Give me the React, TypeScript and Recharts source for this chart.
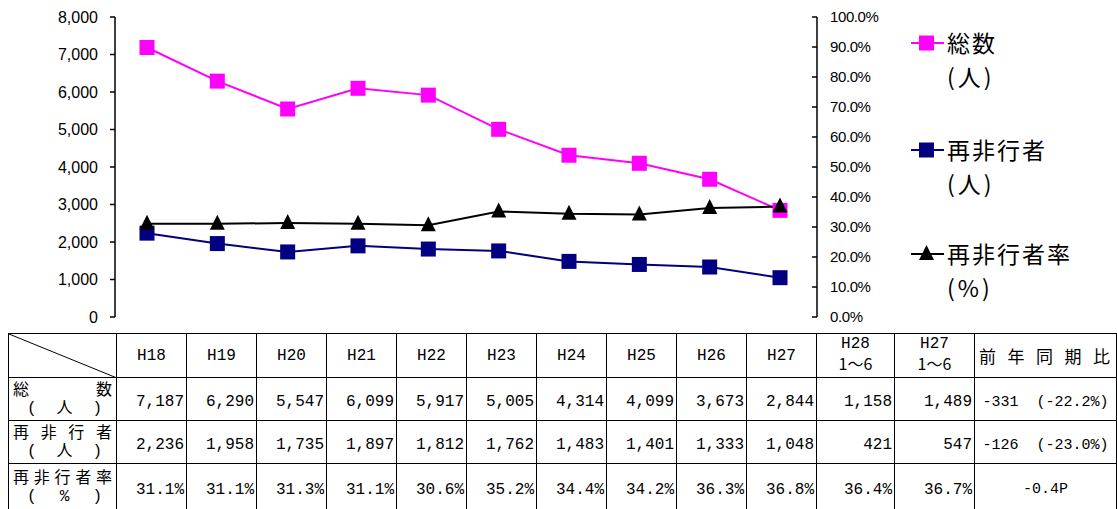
import React from "react"
import { LineChart, Line, XAxis, YAxis } from "recharts"

const years = ["H18", "H19", "H20", "H21", "H22", "H23", "H24", "H25", "H26", "H27"]
const totalCount = [7187, 6290, 5547, 6099, 5917, 5005, 4314, 4099, 3673, 2844]
const reoffenders = [2236, 1958, 1735, 1897, 1812, 1762, 1483, 1401, 1333, 1048]
const reoffendRate = [31.1, 31.1, 31.3, 31.1, 30.6, 35.2, 34.4, 34.2, 36.3, 36.8]

const halfLabels = [["H28", "1～6"], ["H27", "1～6"]]
const halfTotal = [1158, 1489]
const halfReoffenders = [421, 547]
const halfRate = [36.4, 36.7]
const compareLabel = ["前", "年", "同", "期", "比"]
const compareValues = ["-331  (-22.2%)", "-126  (-23.0%)", "-0.4P"]

const leftTicks = [0, 1000, 2000, 3000, 4000, 5000, 6000, 7000, 8000]
const rightTicks = [0, 10, 20, 30, 40, 50, 60, 70, 80, 90, 100]

const PINK = "#FF00FF"
const NAVY = "#000080"
const BLACK = "#000000"

const chartData = years.map((y, i) => ({
  year: y,
  total: totalCount[i],
  reoff: reoffenders[i],
  rate: reoffendRate[i],
}))

const fmt = (n: number) => n.toLocaleString("en-US")

function SquareDot(color: string) {
  return (props: any) => {
    const { cx, cy, index } = props
    return <rect key={index} x={cx - 7.5} y={cy - 7.5} width={15} height={15} fill={color} />
  }
}

function TriangleDot(props: any) {
  const { cx, cy, index } = props
  return (
    <polygon
      key={index}
      points={`${cx},${cy - 9} ${cx - 7.5},${cy + 6} ${cx + 7.5},${cy + 6}`}
      fill={BLACK}
    />
  )
}

function RightTick(props: any) {
  const { x, y, payload } = props
  return (
    <g>
      <line x1={x - 5} x2={x} y1={y} y2={y} stroke="#000" strokeWidth={1.5} />
      <text x={x + 13} y={y} dy={5} fontSize={15} fill="#000" fontFamily="'Liberation Sans', Arial" letterSpacing={-0.4}>
        {payload.value.toFixed(1) + "%"}
      </text>
    </g>
  )
}

const mono = "'Liberation Mono', 'DejaVu Sans Mono', monospace"
const jp = "'Noto Sans CJK JP', sans-serif"

const border = "1px solid #000"

const cell: React.CSSProperties = {
  border,
  padding: 0,
  fontFamily: mono,
  fontSize: 16,
  color: "#000",
}

function LegendItem({ top, color, label, unit, marker }: any) {
  return (
    <div style={{ position: "absolute", left: 910, top, fontFamily: jp, color: "#000" }}>
      <svg width={36} height={20} style={{ position: "absolute", left: 0, top: -10 }}>
        <line x1={1} x2={34} y1={10} y2={10} stroke={color} strokeWidth={2} />
        {marker === "square" ? (
          <rect x={9} y={2.5} width={15} height={15} fill={color} />
        ) : (
          <polygon points="16.5,1 9,16 24,16" fill={color} />
        )}
      </svg>
      <div style={{ position: "absolute", left: 37, top: -18, fontSize: 23, letterSpacing: 2, whiteSpace: "nowrap", lineHeight: "34px" }}>
        {label}
      </div>
      <div style={{ position: "absolute", left: 37, top: 16, fontSize: 23, letterSpacing: 3, whiteSpace: "nowrap", lineHeight: "34px" }}>
        {unit}
      </div>
    </div>
  )
}

function RowLabel({ first, second }: { first: string[]; second: string[] }) {
  return (
    <div style={{ fontFamily: jp, fontSize: 16, lineHeight: "21px", padding: "0 4px 0 4px" }}>
      <div style={{ display: "flex", justifyContent: "space-between" }}>
        {first.map((c, i) => <span key={i}>{c}</span>)}
      </div>
      <div style={{ display: "flex", justifyContent: "space-between", padding: "0 10px 0 14px", fontFamily: `${mono.split(",")[0]}, ${jp}` }}>
        {second.map((c, i) => <span key={i}>{c}</span>)}
      </div>
    </div>
  )
}

export default function App() {
  const colWidths = [108, ...years.map(() => 70), 78, 80, 142]
  const rowLabels = [
    { first: ["総", "数"], second: ["(", "人", ")"] },
    { first: ["再", "非", "行", "者"], second: ["(", "人", ")"] },
    { first: ["再", "非", "行", "者", "率"], second: ["(", "%", ")"] },
  ]
  const rows = [
    [...totalCount.map(fmt), ...halfTotal.map(fmt)],
    [...reoffenders.map(fmt), ...halfReoffenders.map(fmt)],
    [...reoffendRate.map((v) => v.toFixed(1) + "%"), ...halfRate.map((v) => v.toFixed(1) + "%")],
  ]
  const rowHeights = [43, 43, 46]

  return (
    <div style={{ position: "absolute", left: 0, top: 0, width: 1117, height: 509, background: "#fff", overflow: "hidden" }}>
      <LineChart
        width={1117}
        height={330}
        data={chartData}
        margin={{ top: 17, right: 240, bottom: 13, left: 55 }}
      >
        <XAxis dataKey="year" hide padding={{ left: 32, right: 37 }} />
        <YAxis
          yAxisId="left"
          width={60}
          domain={[0, 8000]}
          ticks={leftTicks}
          interval={0}
          tickFormatter={fmt}
          tickSize={5}
          tickMargin={12}
          axisLine={{ stroke: "#000", strokeWidth: 1.5 }}
          tickLine={{ stroke: "#000", strokeWidth: 1.5 }}
          tick={{ fill: "#000", fontSize: 16, fontFamily: "'Liberation Sans', Arial" }}
        />
        <YAxis
          yAxisId="right"
          orientation="right"
          width={60}
          domain={[0, 100]}
          ticks={rightTicks}
          interval={0}
          tickSize={0}
          tickMargin={0}
          tickLine={false}
          axisLine={{ stroke: "#000", strokeWidth: 1.5 }}
          tick={<RightTick />}
        />
        <Line
          yAxisId="left"
          dataKey="total"
          stroke={PINK}
          strokeWidth={2}
          dot={SquareDot(PINK)}
          isAnimationActive={false}
        />
        <Line
          yAxisId="left"
          dataKey="reoff"
          stroke={NAVY}
          strokeWidth={2}
          dot={SquareDot(NAVY)}
          isAnimationActive={false}
        />
        <Line
          yAxisId="right"
          dataKey="rate"
          stroke={BLACK}
          strokeWidth={2}
          dot={TriangleDot}
          isAnimationActive={false}
        />
      </LineChart>

      <LegendItem top={43} color={PINK} label="総数" unit="(人)" marker="square" />
      <LegendItem top={150} color={NAVY} label="再非行者" unit="(人)" marker="square" />
      <LegendItem top={254} color={BLACK} label="再非行者率" unit="(%)" marker="triangle" />

      <table
        style={{
          position: "absolute",
          left: 8,
          top: 333,
          borderCollapse: "collapse",
          tableLayout: "fixed",
          width: colWidths.reduce((a, b) => a + b, 0),
        }}
      >
        <colgroup>
          {colWidths.map((w, i) => <col key={i} style={{ width: w }} />)}
        </colgroup>
        <tbody>
          <tr style={{ height: 44 }}>
            <td style={{ ...cell, position: "relative" }}>
              <svg width={108} height={44} style={{ position: "absolute", left: 0, top: 0 }}>
                <line x1={0} y1={0} x2={108} y2={44} stroke="#000" strokeWidth={1} />
              </svg>
            </td>
            {years.map((y) => (
              <td key={y} style={{ ...cell, textAlign: "center" }}>{y}</td>
            ))}
            {halfLabels.map((h, i) => (
              <td key={i} style={{ ...cell, textAlign: "center", lineHeight: "19px" }}>
                {h[0]}
                <br />
                <span style={{ fontFamily: jp, fontSize: 16 }}>{h[1]}</span>
              </td>
            ))}
            <td style={{ ...cell, fontFamily: jp, fontSize: 17 }}>
              <div style={{ display: "flex", justifyContent: "space-between", padding: "0 6px 0 4px" }}>
                {compareLabel.map((c, i) => <span key={i}>{c}</span>)}
              </div>
            </td>
          </tr>
          {rows.map((r, ri) => (
            <tr key={ri} style={{ height: rowHeights[ri] }}>
              <td style={{ ...cell, verticalAlign: "middle" }}>
                <RowLabel first={rowLabels[ri].first} second={rowLabels[ri].second} />
              </td>
              {r.map((v, ci) => (
                <td key={ci} style={{ ...cell, textAlign: "right", paddingRight: 2, paddingTop: 6 }}>{v}</td>
              ))}
              <td style={{ ...cell, textAlign: "center", whiteSpace: "pre", paddingTop: 6, fontSize: 15 }}>{compareValues[ri]}</td>
            </tr>
          ))}
        </tbody>
      </table>
    </div>
  )
}
